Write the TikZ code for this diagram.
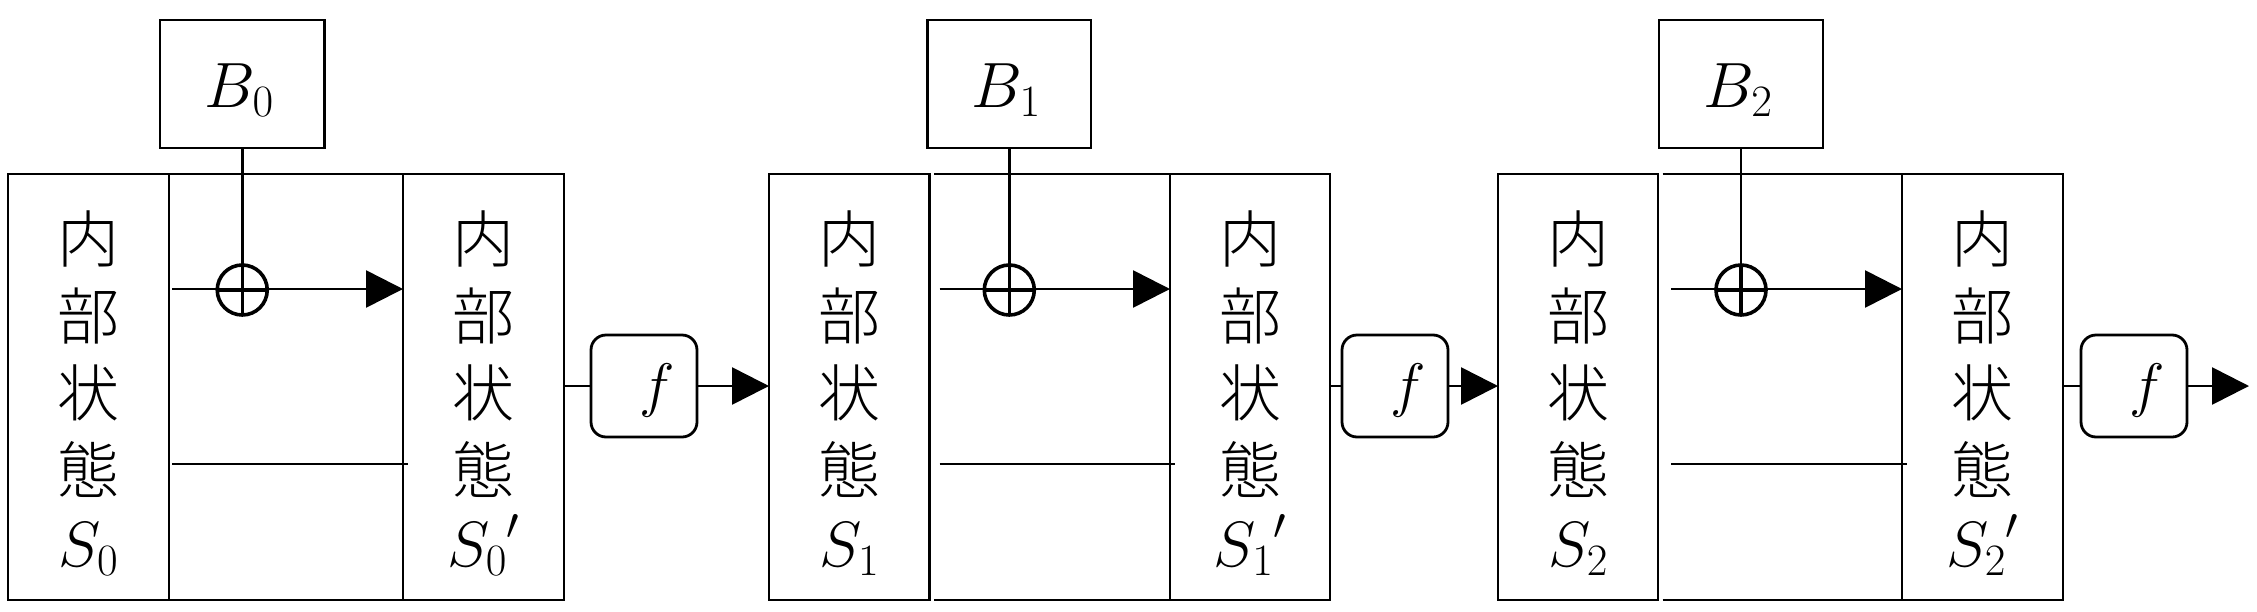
\RequirePackage{fix-cm}
\documentclass[tikz,border=0pt]{standalone}
\usepackage{fontspec}
\newfontfamily\cjk{Noto Sans CJK JP Light}
\usetikzlibrary{arrows.meta}
\begin{document}
\begin{tikzpicture}[x=1pt,y=-1pt,
  box/.style={draw, line width=2.8pt, inner sep=0pt, outer sep=0pt},
  edgeline/.style={line width=2.8pt},
  conn/.style={line width=2.6pt},
  arr/.style={conn, -{Triangle[length=37pt,width=37pt]}},
  xorc/.style={circle, draw, line width=3.6pt, minimum size=50pt, inner sep=0pt, outer sep=0pt},
  fbox/.style={box, rounded corners=15pt, minimum width=106pt, minimum height=102pt},
  cj/.style={font=\cjk\fontsize{62}{62}\selectfont, anchor=base, inner sep=0pt},
  mth/.style={font=\fontsize{64}{64}\selectfont, anchor=base, inner sep=0pt},
  fmth/.style={font=\fontsize{60}{60}\selectfont, anchor=base, inner sep=0pt},
]
\useasboundingbox (0,0) rectangle (2257,611);
\foreach \i/\sa/\sb/\pa/\pb/\ba/\bb/\fa/\fb/\tp/\gp/\ag in
  {0/8/169/403/564/160/324.5/591/697/769/0/3,
   1/769/929.5/1170/1330/927.6/1091/1342/1448/1498/4.5/10,
   2/1498/1658/1902/2063/1659/1823/2081/2187/2249/4.5/13}{
  \pgfmathsetmacro\sw{\sb-\sa}
  \pgfmathsetmacro\sc{(\sa+\sb)/2}
  \pgfmathsetmacro\pw{\pb-\pa}
  \pgfmathsetmacro\pc{(\pa+\pb)/2}
  \pgfmathsetmacro\bw{\bb-\ba}
  \pgfmathsetmacro\bc{(\ba+\bb)/2}
  \pgfmathsetmacro\fc{(\fa+\fb)/2}
  % state boxes
  \node[box, minimum width=\sw pt, minimum height=426pt] (S\i) at (\sc,387) {};
  \node[box, minimum width=\pw pt, minimum height=426pt] (P\i) at (\pc,387) {};
  \draw[edgeline] ([xshift=\gp pt]S\i.north east) -- (P\i.north west);
  \draw[edgeline] ([xshift=\gp pt]S\i.south east) -- (P\i.south west);
  % texts
  \node[cj] (s\i-1) at (\sc,262) {内};
  \node[cj] (s\i-2) at (\sc,339) {部};
  \node[cj] (s\i-3) at (\sc,416) {状};
  \node[cj] (s\i-4) at (\sc,493) {態};
  \node[mth] (s\i-5) at (\sc,566) {$S_\i$};
  \node[cj] (p\i-1) at (\pc,262) {内};
  \node[cj] (p\i-2) at (\pc,339) {部};
  \node[cj] (p\i-3) at (\pc,416) {状};
  \node[cj] (p\i-4) at (\pc,493) {態};
  \node[mth] (p\i-5) at (\pc,566) {${S_\i}'$};
  % block
  \node[box, minimum width=\bw pt, minimum height=128pt] (B\i) at (\bc,84) {};
  \node[mth] (b\i) at (\bc-3,107) {$B_\i$};
  % xor
  \node[xorc] (x\i) at (\bc,290) {};
  \draw[conn] (B\i.south) -- (x\i.north);
  \draw[line width=3.4pt] (x\i.north) -- (x\i.south) (x\i.west) -- (x\i.east);
  \coordinate (a\i) at (\sb+\ag,289);
  \draw[arr] (a\i) -- (a\i -| P\i.west);
  \coordinate (l\i) at (\sb+\ag,464);
  \draw[conn] (l\i) -- ([xshift=5pt]l\i -| P\i.west);
  % f
  \node[fbox] (f\i) at (\fc,386) {};
  \node[fmth] (ft\i) at (\fc+13,405) {$f$};
  \draw[conn] (P\i.east |- f\i) -- (f\i.west);
  \coordinate (t\i) at (\tp,386);
  \draw[arr] (f\i.east) -- (t\i);
}
\end{tikzpicture}
\end{document}
